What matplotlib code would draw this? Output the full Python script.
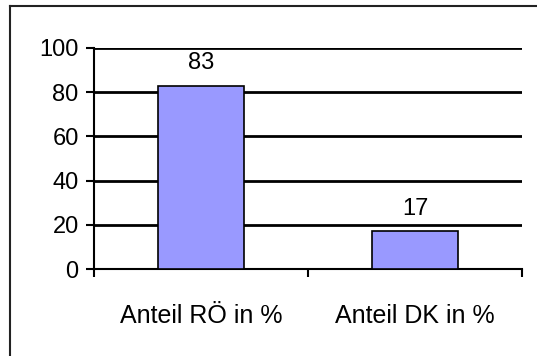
import matplotlib
matplotlib.use("Agg")
import matplotlib.pyplot as plt
from matplotlib.lines import Line2D

categories = ["Anteil RÖ in %", "Anteil DK in %"]
values = [83, 17]
yticks = [0, 20, 40, 60, 80, 100]

plt.rcParams['font.family'] = ['Liberation Sans', 'DejaVu Sans']
FS = 17

W, H = 537, 356
fig = plt.figure(figsize=(W/100, H/100), dpi=100)
ax = fig.add_axes([94/W, 1-269/H, (522-94)/W, (269-48)/H])

x = list(range(len(categories)))
bars = ax.bar(x, values, width=0.4, color="#9999FF", edgecolor="black", linewidth=1.2, zorder=3)
for xi, v in zip(x, values):
    ax.annotate(str(v), (xi, v), xytext=(0, 8), textcoords="offset points",
                ha="center", va="bottom", fontsize=FS)

ax.set_xlim(-0.5, len(categories)-0.5)
ax.set_ylim(0, 100)
ax.set_yticks(yticks)
ax.set_yticklabels([str(t) for t in yticks], fontsize=FS)
ax.yaxis.grid(True, color="black", linewidth=2)
ax.set_axisbelow(True)
ax.set_xticks([-0.5, 0.5, 1.5])
ax.set_xticklabels([])
ax.set_xticks(x, minor=True)
ax.set_xticklabels(categories, minor=True, fontsize=18)
ax.tick_params(axis='x', which='minor', length=0, pad=25)
ax.tick_params(axis='x', which='major', length=6, width=1.5, direction='out')
ax.tick_params(axis='y', length=6, width=1.5, direction='out', pad=5)
for s in ["top", "right"]:
    ax.spines[s].set_visible(False)
ax.spines["left"].set_linewidth(1.5)
ax.spines["bottom"].set_linewidth(1.5)

fig.add_artist(Line2D([9.5/W, 9.5/W], [0, 1-5.5/H], transform=fig.transFigure, color="#222222", linewidth=1.5))
fig.add_artist(Line2D([9.5/W, 1], [1-5.5/H, 1-5.5/H], transform=fig.transFigure, color="#222222", linewidth=1.5))

fig.savefig("out.png", dpi=100)
